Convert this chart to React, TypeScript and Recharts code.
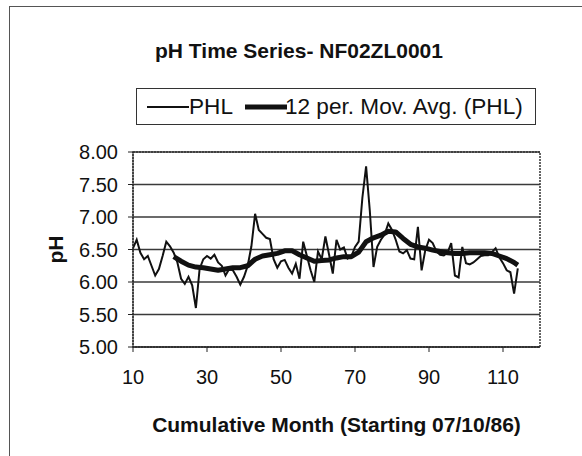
import { LineChart, Line, XAxis, YAxis, CartesianGrid, ReferenceArea, Legend } from "recharts";

const FONT = "'Liberation Sans', Arial, sans-serif";

// monthly pH readings (PHL), months 10..114
const months = [
  10, 11, 12, 13, 14, 15, 16, 17, 18, 19, 20, 21, 22, 23, 24, 25, 26, 27, 28, 29,
  30, 31, 32, 33, 34, 35, 36, 37, 38, 39, 40, 41, 42, 43, 44, 45, 46, 47, 48, 49,
  50, 51, 52, 53, 54, 55, 56, 57, 58, 59, 60, 61, 62, 63, 64, 65, 66, 67, 68, 69,
  70, 71, 72, 73, 74, 75, 76, 77, 78, 79, 80, 81, 82, 83, 84, 85, 86, 87, 88, 89,
  90, 91, 92, 93, 94, 95, 96, 97, 98, 99, 100, 101, 102, 103, 104, 105, 106, 107, 108, 109,
  110, 111, 112, 113, 114,
];
const phl = [
  6.52, 6.65, 6.45, 6.35, 6.4, 6.25, 6.1, 6.2, 6.4, 6.62, 6.55, 6.45, 6.3, 6.05, 5.97, 6.08, 5.95, 5.6, 6.2, 6.35,
  6.4, 6.36, 6.42, 6.3, 6.25, 6.1, 6.2, 6.18, 6.08, 5.96, 6.08, 6.25, 6.55, 7.05, 6.8, 6.74, 6.68, 6.66, 6.35, 6.22,
  6.32, 6.34, 6.22, 6.13, 6.28, 6.05, 6.62, 6.4, 6.18, 6.0, 6.47, 6.35, 6.7, 6.42, 6.13, 6.65, 6.5, 6.53, 6.36, 6.39,
  6.54, 6.62, 7.3, 7.78, 7.1, 6.23, 6.54, 6.65, 6.73, 6.9, 6.8, 6.65, 6.47, 6.44, 6.49, 6.36, 6.35, 6.85, 6.18, 6.49,
  6.65, 6.6, 6.47, 6.42, 6.41, 6.45, 6.6, 6.1, 6.07, 6.54, 6.29, 6.27, 6.3, 6.35, 6.4, 6.41, 6.41, 6.46, 6.52, 6.38,
  6.29, 6.18, 6.15, 5.82, 6.21,
];

// 12 per. moving average
const maMonths = [
  21, 23, 25, 27, 29, 31, 33, 35, 37, 39, 41, 43, 45, 47, 49, 51, 53, 55, 57, 59,
  61, 63, 65, 67, 69, 71, 73, 75, 77, 79, 81, 83, 85, 87, 89, 91, 93, 95, 97, 99,
  101, 103, 105, 107, 109, 111, 113, 114,
];
const maValues = [
  6.39, 6.32, 6.26, 6.23, 6.22, 6.2, 6.18, 6.2, 6.22, 6.22, 6.25, 6.35, 6.4, 6.42, 6.44, 6.48, 6.48, 6.42, 6.37, 6.32,
  6.33, 6.34, 6.37, 6.39, 6.39, 6.46, 6.62, 6.68, 6.72, 6.78, 6.77, 6.67, 6.58, 6.54, 6.52, 6.49, 6.47, 6.45, 6.44, 6.44,
  6.45, 6.45, 6.45, 6.44, 6.4, 6.36, 6.3, 6.26,
];

const xTicks = [10, 30, 50, 70, 90, 110];
const yTicks = [5, 5.5, 6, 6.5, 7, 7.5, 8];

const phlData = months.map((m, i) => ({ month: m, phl: phl[i] }));
const maData = maMonths.map((m, i) => ({ month: m, ma: maValues[i] }));

function LegendBox() {
  return (
    <div
      style={{
        width: 400,
        height: 37,
        border: "1px solid #333",
        background: "#fff",
        display: "flex",
        alignItems: "center",
        fontFamily: FONT,
        fontSize: 22.6,
        color: "#111",
        boxSizing: "border-box",
        whiteSpace: "nowrap",
      }}
    >
      <svg width={52} height={20} style={{ marginLeft: 8, flexShrink: 0 }}>
        <line x1={2} y1={10} x2={44} y2={10} stroke="#111" strokeWidth={1.8} />
      </svg>
      <span style={{ marginLeft: -8 }}>PHL</span>
      <svg width={50} height={20} style={{ marginLeft: 8, flexShrink: 0 }}>
        <line x1={4} y1={10} x2={46} y2={10} stroke="#111" strokeWidth={5} />
      </svg>
      <span style={{ marginLeft: -6 }}>12 per. Mov. Avg. (PHL)</span>
    </div>
  );
}

export default function App() {
  return (
    <div style={{ position: "absolute", left: 0, top: 0, width: 582, height: 456, background: "#fff", overflow: "hidden" }}>
      <div
        style={{
          position: "absolute",
          left: 9,
          top: 6,
          width: 600,
          height: 500,
          borderLeft: "1px solid #555",
          borderTop: "1px solid #555",
        }}
      />
      <div
        style={{
          position: "absolute",
          left: 0,
          top: 39,
          width: 598,
          textAlign: "center",
          fontFamily: FONT,
          fontWeight: "bold",
          fontSize: 21,
          lineHeight: "24px",
          color: "#111",
        }}
      >
        pH Time Series- NF02ZL0001
      </div>
      <LineChart width={582} height={456} margin={{ top: 152, right: 42, bottom: 0, left: 0 }} style={{ position: "absolute", left: 0, top: 0 }}>
        <CartesianGrid vertical={false} stroke="#3a3a3a" strokeWidth={1.3} />
        <ReferenceArea x1={10} x2={120} y1={5} y2={8} fill="none" stroke="#333" strokeWidth={1.5} strokeDasharray="2 1" ifOverflow="visible" />
        <XAxis
          dataKey="month"
          type="number"
          domain={[10, 120]}
          ticks={xTicks}
          allowDataOverflow
          height={109}
          stroke="#222"
          tickSize={5}
          tickMargin={18}
          tick={{ fill: "#111", fontSize: 20, fontFamily: FONT }}
          label={{
            value: "Cumulative Month (Starting 07/10/86)",
            position: "insideBottom",
            offset: 24,
            fill: "#111",
            fontSize: 21,
            fontWeight: "bold",
            fontFamily: FONT,
          }}
        />
        <YAxis
          type="number"
          domain={[5, 8]}
          ticks={yTicks}
          width={133}
          stroke="#222"
          tickSize={5}
          tickMargin={10}
          tickFormatter={(v: number) => v.toFixed(2)}
          tick={{ fill: "#111", fontSize: 20, fontFamily: FONT }}
          label={{
            content: () => (
              <text
                x={63}
                y={249.5}
                transform="rotate(-90 63 249.5)"
                textAnchor="middle"
                fill="#111"
                fontSize={21}
                fontWeight="bold"
                fontFamily={FONT}
              >
                pH
              </text>
            ),
          }}
        />
        <Legend
          verticalAlign="middle"
          align="center"
          content={() => <LegendBox />}
          wrapperStyle={{ position: "absolute", left: 136, top: 88, width: 400, height: 37 }}
        />
        <Line
          data={phlData}
          dataKey="phl"
          name="PHL"
          type="linear"
          stroke="#111"
          strokeWidth={2}
          dot={false}
          isAnimationActive={false}
        />
        <Line
          data={maData}
          dataKey="ma"
          name="12 per. Mov. Avg. (PHL)"
          type="linear"
          stroke="#111"
          strokeWidth={5}
          strokeLinejoin="round"
          dot={false}
          isAnimationActive={false}
        />
      </LineChart>
    </div>
  );
}
